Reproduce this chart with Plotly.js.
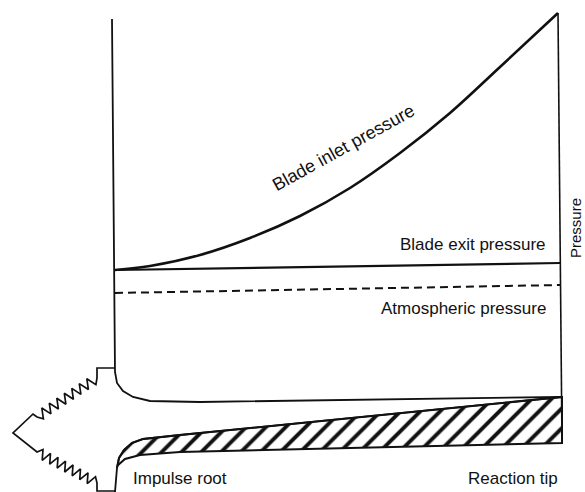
<!DOCTYPE html>
<html>
<head>
<meta charset="utf-8">
<script src="https://cdn.plot.ly/plotly-3.0.1.min.js"></script>
<style>html,body{margin:0;padding:0;background:#fff;}#chart{width:585px;height:492px;}</style>
</head>
<body>
<div id="chart"></div>
<script>
// Units: x = radial position along the blade (root = 0, tip = 443..447), y = pressure (arbitrary, atmospheric ~ 0)
// Blade inlet pressure rising from root to tip
var inletX = [0, 35, 85, 135, 185, 235, 285, 335, 385, 443];
var inletP = [20, 24, 35, 52, 74, 102, 137, 177, 223, 277];
// Blade exit pressure (nearly constant)
var exitX = [0, 445];
var exitP = [20, 27];
// Atmospheric pressure (dashed)
var atmX = [0, 445];
var atmP = [-3, 5];
// Left axis / blade root upper fillet and upper blade surface
var upperX = [-3, 0, 2, 8, 18, 35, 85, 445];
var upperP = [271, -82, -93, -101, -107, -111, -112, -107];
// Right (tip) vertical
var tipX = [443, 447];
var tipP = [277, -153];
// Lower fillet + hatched section outline
var lowerX = [0, 1, 2, 4, 9, 17, 28, 65, 447];
var lowerP = [-202, -190, -178, -168, -160, -153, -149, -145, -107];
// Hatched blade section polygon
var hatchX = [2, 4, 9, 17, 28, 65, 447, 447, 65, 25, 10, 2];
var hatchP = [-178, -168, -160, -153, -149, -145, -107, -153, -162, -165, -169, -176];
// Fir-tree root outline
var rootX = [0, -18, -18, -19.1, -28.2, -26.6, -35.7, -34.1, -43.2, -41.6, -50.7, -49.1, -58.2, -56.6, -65.7, -64.1, -73.2, -71.6, -78, -82, -102,
             -78, -72.0, -72.8, -64.5, -65.3, -57.0, -57.8, -49.5, -50.3, -42.0, -42.8, -34.5, -35.3, -27.0, -27.8, -19.5, -18, -18, 0];
var rootP = [-78, -78, -88, -94.6, -88.7, -99.5, -93.6, -104.4, -98.4, -109.3, -103.3, -114.2, -108.2, -119.0, -113.1, -123.9, -118.0, -128.8, -127, -124, -143,
             -162, -159.5, -170.3, -163.4, -174.2, -167.3, -178.1, -171.1, -182.0, -175.0, -185.9, -178.9, -189.7, -182.8, -193.6, -186.7, -193, -201, -201];

var labels = ["Blade inlet pressure", "Blade exit pressure", "Atmospheric pressure", "Impulse root", "Reaction tip", "Pressure"];

var ink = "#111111";
function line(x, y, w, dash) {
  return {x: x, y: y, type: "scatter", mode: "lines", hoverinfo: "skip",
          line: {color: ink, width: w, dash: dash || "solid", shape: "linear"}};
}
var hatch = {x: hatchX, y: hatchP, type: "scatter", mode: "lines", fill: "toself", hoverinfo: "skip",
  fillcolor: "white", fillpattern: {shape: "/", fgcolor: ink, bgcolor: "white", size: 14, solidity: 0.28},
  line: {color: ink, width: 2}};
var inlet = line(inletX, inletP, 2.6);
inlet.line.shape = "spline";
var traces = [
  hatch,
  inlet,
  line(exitX, exitP, 2.2),
  line(atmX, atmP, 2, "8px,5px"),
  line(upperX, upperP, 1.8),
  line(tipX, tipP, 1.6),
  line(lowerX, lowerP, 1.8),
  line(rootX, rootP, 1.7)
];
var font = {family: "Liberation Sans, Arial, sans-serif", color: ink, size: 17};
function ann(text, x, y, opts) {
  var a = {text: text, x: x, y: y, xref: "x", yref: "y", showarrow: false, font: Object.assign({}, font)};
  return Object.assign(a, opts || {});
}
var layout = {
  width: 585, height: 492,
  margin: {l: 0, r: 0, t: 0, b: 0, pad: 0},
  paper_bgcolor: "white", plot_bgcolor: "white",
  showlegend: false,
  xaxis: {range: [-115, 470], visible: false, fixedrange: true},
  yaxis: {range: [-202, 290], visible: false, fixedrange: true},
  annotations: [
    ann(labels[0], 228, 142, {textangle: -29, font: Object.assign({}, font, {size: 18})}),
    ann(labels[1], 433, 46, {xanchor: "right"}),
    ann(labels[2], 433, -18, {xanchor: "right"}),
    ann(labels[3], 65, -188),
    ann(labels[4], 398, -188),
    ann(labels[5], 460, 62, {textangle: -90, font: Object.assign({}, font, {size: 15})})
  ]
};
Plotly.newPlot("chart", traces, layout, {staticPlot: true, displayModeBar: false});
</script>
</body>
</html>
